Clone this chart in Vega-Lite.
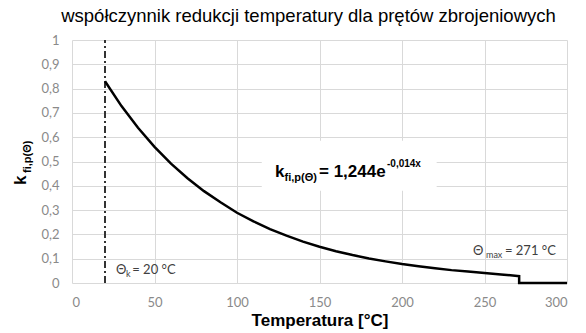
{
  "$schema": "https://vega.github.io/schema/vega-lite/v6.json",
  "width": 495,
  "height": 243,
  "autosize": {"type": "none"},
  "padding": {"left": 72, "top": 40, "right": 19, "bottom": 50},
  "background": "white",
  "config": {
    "view": {"stroke": null},
    "font": "Liberation Sans",
    "axis": {"labelOverlap": false, "labelSeparation": 0, "labelBound": false}
  },
  "title": {
    "text": "współczynnik redukcji temperatury dla prętów zbrojeniowych",
    "font": "Liberation Sans",
    "fontSize": 18.5,
    "fontWeight": "normal",
    "color": "#000000",
    "anchor": "middle",
    "dx": -11,
    "dy": 12,
    "baseline": "bottom",
    "offset": 2
  },
  "encoding": {
    "x": {
      "field": "x", "type": "quantitative",
      "scale": {"domain": [0, 300], "nice": false},
      "axis": {
        "values": [0, 50, 100, 150, 200, 250, 300],
        "labelOverlap": false,
        "title": "Temperatura [°C]",
        "titleFont": "Liberation Sans", "titleFontSize": 17, "titleFontWeight": "bold", "titleColor": "#000000",
        "titlePadding": 3,
        "labelFont": "Lato", "labelFontSize": 13, "labelColor": "#8a8a8a", "labelPadding": 13,
        "domain": false, "ticks": false,
        "grid": true, "gridColor": "#d9d9d9", "gridWidth": 1
      }
    },
    "y": {
      "field": "y", "type": "quantitative",
      "scale": {"domain": [0, 1], "nice": false},
      "axis": {
        "tickCount": 11,
        "labelOverlap": false,
        "labelExpr": "replace(format(datum.value, '.1~f'), '.', ',')",
        "title": null,
        "labelFont": "Lato", "labelFontSize": 13, "labelColor": "#8a8a8a", "labelPadding": 13,
        "domain": false, "ticks": false,
        "grid": true, "gridColor": "#d9d9d9", "gridWidth": 1
      }
    }
  },
  "layer": [
    {
      "data": {"values": [{"x": 115, "x2": 221, "y": 0.38, "y2": 0.585}]},
      "mark": {"type": "rect", "fill": "white"},
      "encoding": {
        "x2": {"field": "x2"},
        "y2": {"field": "y2"}
      }
    },
    {
      "data": {"values": [{"x": 20, "y": 0, "y2": 1}]},
      "mark": {"type": "rule", "color": "#333333", "strokeWidth": 2, "strokeDash": [7, 3, 2, 3]},
      "encoding": {
        "y2": {"field": "y2"}
      }
    },
    {
      "data": {"values": [
        {"i": 0, "x": 20, "y": 0.83},
        {"i": 1, "x": 30, "y": 0.728},
        {"i": 2, "x": 40, "y": 0.639},
        {"i": 3, "x": 50, "y": 0.56},
        {"i": 4, "x": 60, "y": 0.491},
        {"i": 5, "x": 70, "y": 0.431},
        {"i": 6, "x": 80, "y": 0.378},
        {"i": 7, "x": 90, "y": 0.332},
        {"i": 8, "x": 100, "y": 0.289},
        {"i": 9, "x": 110, "y": 0.254},
        {"i": 10, "x": 120, "y": 0.222},
        {"i": 11, "x": 130, "y": 0.195},
        {"i": 12, "x": 140, "y": 0.17},
        {"i": 13, "x": 150, "y": 0.149},
        {"i": 14, "x": 160, "y": 0.131},
        {"i": 15, "x": 170, "y": 0.115},
        {"i": 16, "x": 180, "y": 0.101},
        {"i": 17, "x": 190, "y": 0.089},
        {"i": 18, "x": 200, "y": 0.078},
        {"i": 19, "x": 210, "y": 0.069},
        {"i": 20, "x": 220, "y": 0.061},
        {"i": 21, "x": 230, "y": 0.053},
        {"i": 22, "x": 240, "y": 0.047},
        {"i": 23, "x": 250, "y": 0.041},
        {"i": 24, "x": 260, "y": 0.035},
        {"i": 25, "x": 270, "y": 0.029},
        {"i": 26, "x": 271, "y": 0.028},
        {"i": 27, "x": 271, "y": 0},
        {"i": 28, "x": 300, "y": 0}
      ]},
      "mark": {"type": "line", "color": "#000000", "strokeWidth": 2.5},
      "encoding": {
        "order": {"field": "i", "type": "quantitative"}
      }
    },
    {
      "data": {"values": [{"x": 123, "y": 0.436, "t": "k"}, {"x": 149.7, "y": 0.436, "t": "= 1,244e"}]},
      "mark": {"type": "text", "align": "left", "baseline": "alphabetic", "font": "Liberation Sans", "fontSize": 17, "fontWeight": "bold", "color": "#000000"},
      "encoding": {"text": {"field": "t"}}
    },
    {
      "data": {"values": [{"x": 128.8, "y": 0.42, "t": "fi,p(Θ)"}]},
      "mark": {"type": "text", "align": "left", "baseline": "alphabetic", "font": "Liberation Sans", "fontSize": 11, "fontWeight": "bold", "color": "#000000"},
      "encoding": {"text": {"field": "t"}}
    },
    {
      "data": {"values": [{"x": 190.9, "y": 0.477, "t": "-0,014x"}]},
      "mark": {"type": "text", "align": "left", "baseline": "alphabetic", "font": "Liberation Sans", "fontSize": 10, "fontWeight": "bold", "color": "#000000"},
      "encoding": {"text": {"field": "t"}}
    },
    {
      "data": {"values": [
        {"x": 26.7, "y": 0.037, "t": "Θ"},
        {"x": 36.5, "y": 0.037, "t": " = 20 °C"},
        {"x": 243, "y": 0.115, "t": "Θ"},
        {"x": 262.4, "y": 0.115, "t": "= 271 °C"}
      ]},
      "mark": {"type": "text", "align": "left", "baseline": "alphabetic", "font": "Lato", "fontSize": 13, "color": "#404040"},
      "encoding": {"text": {"field": "t"}}
    },
    {
      "data": {"values": [
        {"x": 32.7, "y": 0.025, "t": "k"},
        {"x": 250.9, "y": 0.103, "t": "max"}
      ]},
      "mark": {"type": "text", "align": "left", "baseline": "alphabetic", "font": "Lato", "fontSize": 9, "color": "#404040"},
      "encoding": {"text": {"field": "t"}}
    },
    {
      "data": {"values": [{"x": 0, "y": 0.403, "t": "k"}]},
      "mark": {"type": "text", "align": "left", "baseline": "alphabetic", "angle": 270, "dy": -46, "font": "Liberation Sans", "fontSize": 17, "fontWeight": "bold", "color": "#000000"},
      "encoding": {"text": {"field": "t"}}
    },
    {
      "data": {"values": [{"x": 0, "y": 0.453, "t": "fi,p(Θ)"}]},
      "mark": {"type": "text", "align": "left", "baseline": "alphabetic", "angle": 270, "dy": -41, "font": "Liberation Sans", "fontSize": 11, "fontWeight": "bold", "color": "#000000"},
      "encoding": {"text": {"field": "t"}}
    }
  ]
}
